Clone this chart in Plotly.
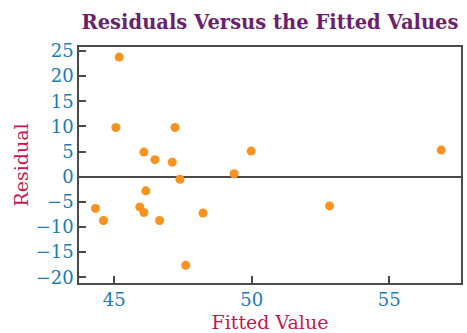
import plotly.graph_objects as go

# Fitted values and residuals from the regression
fitted = [45.18, 45.06, 47.21, 46.08, 46.48, 47.11, 49.98, 49.36, 47.39, 46.15,
          44.32, 45.93, 46.08, 44.61, 46.65, 48.23, 47.60, 56.89, 52.83]
residual = [23.8, 9.8, 9.8, 4.9, 3.4, 2.9, 5.1, 0.6, -0.5, -2.8,
            -6.3, -6.0, -7.1, -8.7, -8.7, -7.2, -17.6, 5.3, -5.8]

x_ticks = [45, 50, 55]
y_ticks = [25, 20, 15, 10, 5, 0, -5, -10, -15, -20]

serif = "DejaVu Serif, Liberation Serif, serif"
axis_col = "#4a4a4a"
tick_col = "#1b7db3"
title_col = "#c8174f"

fig = go.Figure(
    go.Scatter(
        x=fitted, y=residual, mode="markers",
        marker=dict(color="#f7931e", size=9, line=dict(width=0)),
        hoverinfo="x+y",
    )
)

fig.update_layout(
    width=467, height=333,
    margin=dict(l=79, r=6, t=47, b=50),
    paper_bgcolor="white", plot_bgcolor="white",
    showlegend=False,
    title=dict(
        text="<b>Residuals Versus the Fitted Values</b>",
        font=dict(family=serif, size=19.5, color="#6b1f6e"),
        x=(79 + 461) / 2 / 467, xanchor="center",
        y=1 - 22 / 333, yanchor="middle",
    ),
    xaxis=dict(
        range=[43.72, 57.61], tickvals=x_ticks, automargin=False,
        ticks="inside", ticklen=7, tickwidth=1.5, tickcolor=axis_col,
        showline=True, linecolor=axis_col, linewidth=1.5, mirror=True,
        showgrid=False, zeroline=False,
        tickfont=dict(family=serif, size=18, color=tick_col),
        title=dict(text="Fitted Value", standoff=11,
                   font=dict(family=serif, size=19, color=title_col)),
    ),
    yaxis=dict(
        range=[-21.13, 25.8], tickvals=y_ticks, automargin=False,
        ticks="inside", ticklen=7, tickwidth=1.5, tickcolor=axis_col,
        showline=True, linecolor=axis_col, linewidth=1.5, mirror=True,
        showgrid=False,
        zeroline=True, zerolinecolor=axis_col, zerolinewidth=1.5,
        tickfont=dict(family=serif, size=18, color=tick_col),
        title=dict(text="Residual", standoff=2,
                   font=dict(family=serif, size=19, color=title_col)),
    ),
)

fig.write_html("out.html")
